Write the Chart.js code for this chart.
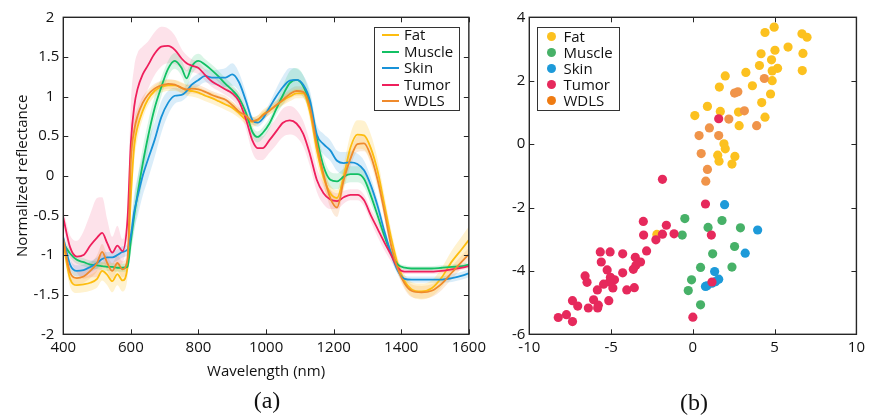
<!DOCTYPE html>
<html>
<head>
<meta charset="utf-8">
<script src="https://cdn.jsdelivr.net/npm/chart.js@4.4.0/dist/chart.umd.min.js"></script>
<style>
  body { margin: 0; background: #fff; font-family: 'Open Sans', sans-serif; }
  #wrap { position: relative; width: 869px; height: 415px; overflow: hidden; }
  canvas { position: absolute; top: 0; }
  .legend { position: absolute; box-sizing: border-box; border: 1px solid #333; background: #fff; }
  .legend .txt { position: absolute; font-size: 15px; line-height: 16px; color: #111; white-space: nowrap; }
  .legend .ln { position: absolute; height: 2px; }
  .legend .dot { position: absolute; width: 9px; height: 9px; border-radius: 50%; }
  .cap { position: absolute; width: 100px; text-align: center; font-family: 'Liberation Serif', serif; font-size: 24px; line-height: 28px; color: #111; }
</style>
</head>
<body>
<div id="wrap">
  <canvas id="spectra" width="490" height="415" style="left:0"></canvas>
  <canvas id="scores" width="379" height="415" style="left:490px"></canvas>
  <div id="legA" class="legend" style="left:374px; top:27px; width:86px; height:84px"></div>
  <div id="legB" class="legend" style="left:537px; top:27px; width:83px; height:84px"></div>
  <div class="cap" style="left:217px; top:386px">(a)</div>
  <div class="cap" style="left:644px; top:388px">(b)</div>
</div>
<script>
// ---- data: panel (a), mean spectra and spread
const names = ['Fat', 'Muscle', 'Skin', 'Tumor', 'WDLS'];
const wavelengths = [400,420,440,460,480, 500,515,530,545,560, 575,590,600,610,620, 635,650,670,690,710,
  730,750,765,780,800, 820,840,860,880,900, 920,940,960,975,990, 1010,1030,1050,1070,1090,
  1110,1130,1150,1170,1190, 1210,1230,1250,1270,1290, 1310,1330,1350,1370,1390, 1410,1430,1460,1490,1520, 1550,1580,1600];

const fatMean = [-0.85,-1.30,-1.38,-1.37,-1.35, -1.30,-1.20,-1.25,-1.33,-1.24, -1.32,-1.15,-0.25,0.38,0.62,
  0.82,0.96,1.07,1.12,1.14, 1.14,1.11,1.08,1.07,1.05, 1.01,0.98,0.94,0.90,0.86, 0.79,0.71,0.68,0.70,0.77,
  0.83,0.89,0.95,1.00,1.04, 1.04,0.80,0.33,-0.02,-0.22, -0.28,0.00,0.36,0.52,0.51, 0.35,0.06,-0.36,-0.78,-1.12,
  -1.33,-1.43,-1.46,-1.42,-1.28, -1.08,-0.92,-0.81];
const muscleMean = [-0.85,-0.98,-1.06,-1.09,-1.12, -1.13,-1.14,-1.15,-1.15,-1.16, -1.16,-1.15,-0.82,-0.50,-0.22,
  0.15,0.48,0.85,1.12,1.35, 1.45,1.36,1.23,1.38,1.45, 1.40,1.33,1.25,1.16,1.08, 0.98,0.80,0.55,0.49,0.54,
  0.66,0.84,1.02,1.17,1.21, 1.13,0.90,0.48,0.12,-0.05, -0.07,-0.01,0.02,0.02,-0.04, -0.25,-0.50,-0.76,-0.98,-1.12,
  -1.16,-1.17,-1.17,-1.17,-1.16, -1.15,-1.14,-1.12];
const skinMean = [-0.78,-1.12,-1.20,-1.19,-1.15, -1.10,-1.05,-1.03,-1.03,-1.00, -0.96,-0.93,-0.75,-0.45,-0.26,
  0.00,0.20,0.45,0.74,0.92, 1.01,1.02,1.07,1.15,1.21, 1.26,1.24,1.24,1.24,1.28, 1.18,0.95,0.70,0.67,0.72,
  0.86,1.00,1.12,1.20,1.21, 1.15,0.95,0.52,0.40,0.32, 0.19,0.16,0.17,0.15,0.07, -0.12,-0.38,-0.70,-0.98,-1.20,
  -1.30,-1.31,-1.31,-1.31,-1.31, -1.29,-1.26,-1.23];
const tumorMean = [-0.53,-0.90,-1.02,-1.00,-0.88, -0.78,-0.72,-0.85,-0.97,-0.88, -0.95,-0.55,0.42,0.88,1.10,
  1.28,1.39,1.54,1.63,1.64, 1.59,1.48,1.42,1.39,1.36, 1.27,1.19,1.14,1.09,1.04, 0.94,0.72,0.44,0.35,0.35,
  0.45,0.56,0.67,0.70,0.66, 0.53,0.27,-0.05,-0.22,-0.30, -0.32,-0.27,-0.24,-0.24,-0.31, -0.50,-0.67,-0.84,-1.00,-1.16,
  -1.21,-1.21,-1.21,-1.21,-1.20, -1.18,-1.16,-1.14];
const wdlsMean = [-0.80,-1.22,-1.29,-1.27,-1.20, -1.10,-0.96,-1.10,-1.20,-1.10, -1.18,-1.05,0.20,0.58,0.76,
  0.92,1.02,1.10,1.14,1.16, 1.15,1.11,1.09,1.10,1.09, 1.06,1.02,0.99,0.96,0.89, 0.81,0.76,0.69,0.71,0.76,
  0.82,0.89,0.96,1.03,1.07, 1.06,0.86,0.40,0.02,-0.28, -0.40,-0.05,0.22,0.40,0.41, 0.25,-0.05,-0.45,-0.88,-1.18,
  -1.36,-1.45,-1.47,-1.45,-1.36, -1.22,-1.08,-0.99];

const fatStd = [0.10,0.10,0.10,0.10,0.10, 0.11,0.12,0.13,0.14,0.14, 0.14,0.14,0.25,0.20,0.15,
  0.10,0.08,0.07,0.07,0.07, 0.07,0.07,0.07,0.07,0.07, 0.07,0.07,0.07,0.07,0.07, 0.06,0.06,0.06,0.06,0.06,
  0.06,0.06,0.06,0.06,0.06, 0.06,0.10,0.15,0.12,0.10, 0.10,0.14,0.17,0.18,0.18, 0.17,0.15,0.12,0.10,0.08,
  0.08,0.09,0.10,0.10,0.12, 0.14,0.16,0.17];
const muscleStd = [0.05,0.05,0.05,0.05,0.05, 0.05,0.05,0.05,0.05,0.05, 0.05,0.05,0.15,0.20,0.20,
  0.20,0.18,0.15,0.12,0.10, 0.10,0.10,0.10,0.10,0.09, 0.07,0.07,0.07,0.07,0.07, 0.07,0.07,0.07,0.07,0.07,
  0.07,0.07,0.12,0.15,0.15, 0.14,0.12,0.12,0.12,0.10, 0.10,0.10,0.10,0.10,0.10, 0.10,0.08,0.06,0.05,0.03,
  0.03,0.03,0.03,0.03,0.03, 0.03,0.03,0.03];
const skinStd = [0.07,0.07,0.07,0.07,0.07, 0.07,0.07,0.07,0.07,0.07, 0.07,0.07,0.15,0.22,0.25,
  0.25,0.25,0.22,0.20,0.15, 0.10,0.08,0.08,0.08,0.08, 0.08,0.09,0.10,0.12,0.14, 0.12,0.10,0.05,0.05,0.05,
  0.06,0.10,0.14,0.16,0.14, 0.12,0.12,0.12,0.13,0.13, 0.13,0.14,0.14,0.13,0.12, 0.10,0.08,0.07,0.06,0.05,
  0.04,0.04,0.04,0.04,0.04, 0.05,0.05,0.05];
const tumorStd = [0.10,0.15,0.20,0.30,0.40, 0.50,0.45,0.30,0.20,0.25, 0.15,0.20,0.50,0.50,0.45,
  0.35,0.30,0.27,0.25,0.22, 0.18,0.12,0.10,0.08,0.08, 0.07,0.07,0.07,0.07,0.08, 0.10,0.12,0.15,0.15,0.15,
  0.16,0.17,0.18,0.18,0.17, 0.16,0.15,0.15,0.14,0.12, 0.10,0.08,0.07,0.07,0.07, 0.08,0.10,0.10,0.08,0.05,
  0.03,0.03,0.03,0.03,0.03, 0.03,0.03,0.03];
const wdlsStd = [0.08,0.08,0.08,0.08,0.09, 0.10,0.10,0.10,0.10,0.10, 0.10,0.12,0.20,0.15,0.10,
  0.08,0.06,0.06,0.06,0.06, 0.06,0.06,0.06,0.06,0.06, 0.05,0.05,0.05,0.05,0.05, 0.05,0.05,0.05,0.05,0.05,
  0.05,0.05,0.06,0.06,0.06, 0.06,0.08,0.12,0.12,0.12, 0.12,0.12,0.10,0.10,0.10, 0.10,0.10,0.10,0.08,0.06,
  0.07,0.08,0.08,0.08,0.08, 0.08,0.08,0.08];

const xTicksA = [400, 600, 800, 1000, 1200, 1400, 1600];
const yTicksA = [-2, -1.5, -1, -0.5, 0, 0.5, 1, 1.5, 2];

// ---- data: panel (b), scores
const fatX = [4.97,4.41,6.67,6.98,5.82,5.02,6.73,4.17,4.81,4.07,5.18,4.85,6.69,3.24,1.98,4.85,1.62,3.64,4.75,4.21,0.89,1.68,2.79,0.12,4.41,2.83,1.90,1.98,1.52,2.57,1.60,2.39,-2.20];
const fatY = [3.69,3.52,3.48,3.37,3.06,2.96,2.86,2.85,2.66,2.48,2.39,2.31,2.32,2.26,2.15,2.00,1.80,1.84,1.58,1.31,1.19,1.03,1.01,0.90,0.85,0.58,0.01,-0.15,-0.35,-0.39,-0.54,-0.63,-2.85];
const muscleX = [-0.49,-0.65,0.93,1.78,2.91,1.21,2.55,0.47,2.39,-0.08,-0.28,0.47];
const muscleY = [-2.35,-2.87,-2.63,-2.41,-2.64,-3.46,-3.23,-3.89,-3.88,-4.28,-4.62,-5.07];
const skinX = [1.94,3.96,3.20,1.33,1.58,1.38,1.17,0.87,0.77];
const skinY = [-1.91,-2.71,-3.44,-4.02,-4.26,-4.34,-4.39,-4.47,-4.49];
const tumorX = [1.58,-1.86,0.77,-3.03,-1.62,-3.01,-1.86,-1.15,1.13,-2.26,-2.83,-5.66,-5.06,-4.29,-3.52,-5.60,-3.20,-3.48,-3.64,-5.24,-4.29,-6.59,-6.47,-5.04,-4.79,-5.10,-5.46,-5.84,-4.89,-4.04,-3.58,-7.36,-6.07,-5.14,-7.04,-5.78,-6.39,-5.82,-8.23,-7.73,-7.36,0.00,1.17];
const tumorY = [0.80,-1.11,-1.89,-2.44,-2.56,-2.87,-2.84,-2.83,-2.87,-3.02,-3.37,-3.40,-3.40,-3.46,-3.57,-3.72,-3.72,-3.82,-3.95,-3.97,-4.06,-4.16,-4.36,-4.20,-4.28,-4.35,-4.42,-4.60,-4.54,-4.60,-4.53,-4.94,-4.91,-4.94,-5.11,-5.08,-5.17,-5.17,-5.47,-5.38,-5.60,-5.46,-4.35];
const wdlsX = [4.37,2.55,2.75,3.15,2.20,3.90,1.01,0.38,1.58,0.51,0.89,0.79];
const wdlsY = [2.07,1.61,1.65,1.05,0.79,0.58,0.51,0.27,0.27,-0.30,-0.80,-1.17];

const xTicksB = [-10, -5, 0, 5, 10];
const yTicksB = [-6, -4, -2, 0, 2, 4];

// ---- styles
const lineColors = ['#fdbd10', '#12c064', '#1892d8', '#ef1f5c', '#ef8a2c'];
const bandColors = ['rgba(253,189,16,0.2)', 'rgba(18,192,100,0.16)', 'rgba(24,146,216,0.16)', 'rgba(239,31,92,0.13)', 'rgba(239,138,44,0.18)'];
const dotColors = ['#fcc11f', '#47b168', '#1d9ad9', '#e6295c', '#f0944a'];
const dotLegendColors = ['#fcc11f', '#47b168', '#1d9ad9', '#e6295c', '#ef7b12'];

Chart.defaults.font.family = "'Open Sans', sans-serif";
Chart.defaults.font.size = 15;
Chart.defaults.color = '#111';

// inward ticks on all four sides plus the box, matlab style
const boxTicks = {
  id: 'boxTicks',
  afterDraw(chart, args, opts) {
    const { ctx, chartArea: a, scales } = chart;
    ctx.save();
    ctx.strokeStyle = '#262626';
    ctx.lineWidth = 1;
    ctx.beginPath();
    opts.xTicks.forEach(v => {
      const px = Math.round(scales.x.getPixelForValue(v)) + 0.5;
      ctx.moveTo(px, a.bottom); ctx.lineTo(px, a.bottom - 5);
      ctx.moveTo(px, a.top); ctx.lineTo(px, a.top + 5);
    });
    opts.yTicks.forEach(v => {
      const py = Math.round(scales.y.getPixelForValue(v)) + 0.5;
      ctx.moveTo(a.left, py); ctx.lineTo(a.left + 5, py);
      ctx.moveTo(a.right, py); ctx.lineTo(a.right - 5, py);
    });
    ctx.stroke();
    ctx.lineWidth = 1.4;
    ctx.strokeRect(a.left, a.top, a.right - a.left, a.bottom - a.top);
    ctx.restore();
  }
};

// plain labels, no thousands separator; whole numbers sit a little left like in the source
const plain = v => String(v);
const plainHalf = v => Number.isInteger(v) ? String(v) + '\u2009\u2009' : String(v);

function axis(min, max, step, extra) {
  return Object.assign({
    type: 'linear', min: min, max: max,
    grid: { display: false, drawTicks: false },
    border: { display: false },
    ticks: { stepSize: step, autoSkip: false, maxRotation: 0, padding: 4, callback: plain }
  }, extra);
}

// panel (a)
const specSets = [];
const means = [fatMean, muscleMean, skinMean, tumorMean, wdlsMean];
const stds = [fatStd, muscleStd, skinStd, tumorStd, wdlsStd];
names.forEach((n, i) => {
  const m = means[i], s = stds[i];
  specSets.push({
    label: n + ' hi', data: wavelengths.map((w, k) => ({ x: w, y: m[k] + s[k] })),
    borderWidth: 0, pointRadius: 0, fill: false, cubicInterpolationMode: 'monotone'
  });
  specSets.push({
    label: n + ' lo', data: wavelengths.map((w, k) => ({ x: w, y: m[k] - s[k] })),
    borderWidth: 0, pointRadius: 0, fill: '-1', backgroundColor: bandColors[i], cubicInterpolationMode: 'monotone'
  });
});
names.forEach((n, i) => {
  specSets.push({
    label: n, data: wavelengths.map((w, k) => ({ x: w, y: means[i][k] })),
    borderColor: lineColors[i], borderWidth: 1.8, pointRadius: 0, fill: false,
    cubicInterpolationMode: 'monotone', order: 5 - i
  });
});

const yA = axis(-2, 2, 0.5, {
  title: { display: true, text: 'Normalized reflectance', padding: { top: 13.5, bottom: 0 } },
  afterFit: s => { s.width = 63.3; }
});
yA.ticks.callback = plainHalf;

new Chart(document.getElementById('spectra'), {
  type: 'line',
  data: { datasets: specSets },
  options: {
    responsive: false, animation: false,
    layout: { padding: { left: 0, right: 21, top: 17.3, bottom: 0 } },
    plugins: {
      legend: { display: false }, tooltip: { enabled: false },
      filler: { drawTime: 'beforeDatasetsDraw' },
      boxTicks: { xTicks: xTicksA, yTicks: yTicksA }
    },
    scales: {
      x: axis(400, 1600, 200, {
        title: { display: true, text: 'Wavelength (nm)', padding: { top: 0, bottom: 34 } },
        afterFit: s => { s.height = 80.7; }
      }),
      y: yA
    }
  },
  plugins: [boxTicks]
});

// panel (b)
const xs = [fatX, muscleX, skinX, tumorX, wdlsX];
const ys = [fatY, muscleY, skinY, tumorY, wdlsY];
const drawOrder = [5, 3, 2, 1, 4];
new Chart(document.getElementById('scores'), {
  type: 'scatter',
  data: {
    datasets: names.map((n, i) => ({
      label: n,
      data: xs[i].map((x, k) => ({ x: x, y: ys[i][k] })),
      backgroundColor: dotColors[i], borderWidth: 0, pointRadius: 4.6,
      order: drawOrder[i]
    }))
  },
  options: {
    responsive: false, animation: false,
    layout: { padding: { left: 0, right: 10, top: 17.3, bottom: 0 } },
    plugins: {
      legend: { display: false }, tooltip: { enabled: false },
      boxTicks: { xTicks: xTicksB, yTicks: yTicksB }
    },
    scales: {
      x: axis(-10, 10, 5, { afterFit: s => { s.height = 80.7; } }),
      y: axis(-6, 4, 2, { afterFit: s => { s.width = 39.3; } })
    }
  },
  plugins: [boxTicks]
});

// legends
function legend(id, rowTop, rowGap, markerX, textX, kind, colors) {
  const box = document.getElementById(id);
  names.forEach((n, i) => {
    const cy = rowTop + i * rowGap;
    const mk = document.createElement('div');
    if (kind === 'line') {
      mk.className = 'ln';
      mk.style.left = markerX + 'px'; mk.style.width = '17px';
      mk.style.top = (cy - 1) + 'px';
    } else {
      mk.className = 'dot';
      mk.style.left = (markerX - 4.5) + 'px';
      mk.style.top = (cy - 4.5) + 'px';
    }
    mk.style.background = colors[i];
    box.appendChild(mk);
    const t = document.createElement('div');
    t.className = 'txt';
    t.textContent = n;
    t.style.left = textX + 'px';
    t.style.top = (cy - 9) + 'px';
    box.appendChild(t);
  });
}
legend('legA', 7, 16.5, 7, 29, 'line', lineColors);
legend('legB', 8.5, 16, 13, 25.5, 'dot', dotLegendColors);
</script>
</body>
</html>
